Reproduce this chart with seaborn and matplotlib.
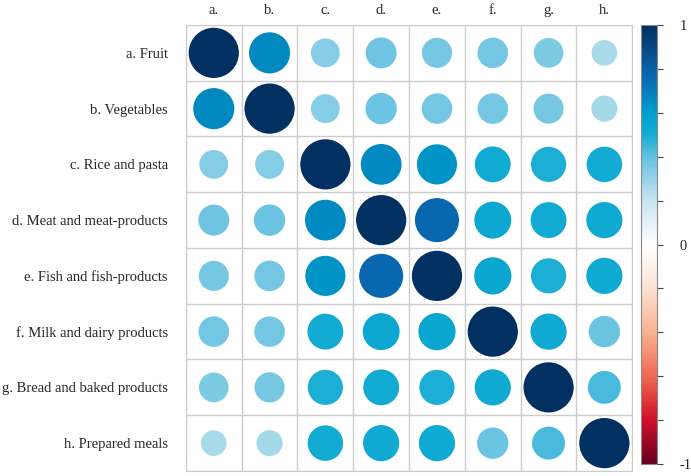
import numpy as np
import pandas as pd
import seaborn as sns
import matplotlib.pyplot as plt
from matplotlib.colors import LinearSegmentedColormap, Normalize
from matplotlib.cm import ScalarMappable

# food groups (rows) and short column labels
row_labels = ["a. Fruit", "b. Vegetables", "c. Rice and pasta",
              "d. Meat and meat-products", "e. Fish and fish-products",
              "f. Milk and dairy products", "g. Bread and baked products",
              "h. Prepared meals"]
col_labels = ["a.", "b.", "c.", "d.", "e.", "f.", "g.", "h."]

# correlation values
corr_a = [1.00, 0.67, 0.33, 0.38, 0.36, 0.37, 0.35, 0.26]
corr_b = [0.67, 1.00, 0.33, 0.39, 0.37, 0.37, 0.36, 0.27]
corr_c = [0.33, 0.33, 1.00, 0.66, 0.64, 0.51, 0.49, 0.50]
corr_d = [0.38, 0.39, 0.66, 1.00, 0.77, 0.54, 0.51, 0.52]
corr_e = [0.36, 0.37, 0.64, 0.77, 1.00, 0.55, 0.49, 0.52]
corr_f = [0.37, 0.37, 0.51, 0.54, 0.55, 1.00, 0.52, 0.39]
corr_g = [0.35, 0.36, 0.49, 0.51, 0.49, 0.52, 1.00, 0.43]
corr_h = [0.26, 0.27, 0.50, 0.52, 0.52, 0.39, 0.43, 1.00]

mat = np.array([corr_a, corr_b, corr_c, corr_d, corr_e, corr_f, corr_g, corr_h])

# long format for seaborn
recs = []
for i in range(len(row_labels)):
    for j in range(len(col_labels)):
        recs.append({"row": i, "col": j, "r": mat[i, j], "absr": abs(mat[i, j])})
df = pd.DataFrame(recs)

# colour ramp like the corrplot legend (positions on 0..1 = -1..1)
ramp = [(0.00, "#67001F"), (0.10, "#D0102A"), (0.20, "#F06A50"),
        (0.30, "#F8B294"), (0.40, "#FDE2D4"), (0.50, "#FFFFFF"),
        (0.60, "#C8E5F0"), (0.665, "#86CEE4"), (0.70, "#66C2E0"),
        (0.75, "#14ACD4"), (0.80, "#00A0CC"), (0.835, "#0088C0"),
        (0.885, "#0868B0"), (1.00, "#023060")]
cmap = LinearSegmentedColormap.from_list("corr", ramp)

sns.set_style("white")
plt.rcParams['font.family'] = ['Liberation Serif', 'DejaVu Serif']

fig = plt.figure(figsize=(6.91, 4.76), dpi=100)
ax = fig.add_axes([0.269, 0.0105, 0.646, 0.937])

cell_pt = 0.646 * 6.91 * 72 / 8
full_d = cell_pt * 0.9

sns.scatterplot(data=df, x="col", y="row", hue="r", size="absr",
                palette=cmap, hue_norm=(-1, 1),
                sizes=(0, full_d ** 2), size_norm=(0, 1),
                linewidth=0, legend=False, ax=ax)

ax.set_xlim(-0.5, 7.5)
ax.set_ylim(7.5, -0.5)
ax.set_xticks(range(8))
ax.set_xticklabels(col_labels, fontsize=10.5)
ax.set_yticks(range(8))
ax.set_yticklabels(row_labels, fontsize=10.5)
ax.xaxis.tick_top()
ax.tick_params(axis="x", length=0, pad=6)
ax.tick_params(axis="y", length=0, pad=13)
ax.set_xticks(np.arange(-0.5, 8, 1), minor=True)
ax.set_yticks(np.arange(-0.5, 8, 1), minor=True)
ax.tick_params(which="minor", length=0)
ax.grid(which="minor", color="#CCCCCC", linewidth=1)
ax.grid(which="major", visible=False)
ax.set_xlabel("")
ax.set_ylabel("")
for s in ax.spines.values():
    s.set_color("#CCCCCC")

# colour legend
cax = fig.add_axes([0.928, 0.025, 0.023, 0.9225])
cb = fig.colorbar(ScalarMappable(norm=Normalize(-1, 1), cmap=cmap), cax=cax,
                  ticks=np.round(np.arange(-1, 1.01, 0.2), 1))
cb.set_ticklabels(["-1", "", "", "", "", "0", "", "", "", "", "1"])
cb.outline.set_edgecolor("#888888")
cax.tick_params(length=4, color="#444444", labelsize=10.5, pad=12)

fig.savefig("out.png", dpi=100)
